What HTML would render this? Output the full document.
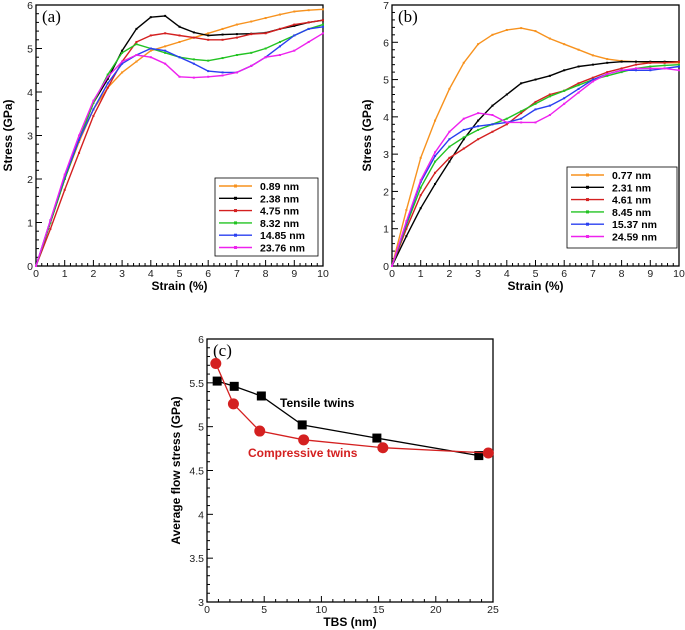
<!DOCTYPE html>
<html><head><meta charset="utf-8"><style>
html,body{margin:0;padding:0;background:#fff;width:685px;height:630px;overflow:hidden}
svg{display:block;font-family:"Liberation Sans",Arial,sans-serif}
</style></head><body>
<svg id="fig" width="685" height="630" viewBox="0 0 685 630"></svg>
<script>
// ---- Panel (a) data ----
const strainA = [0,0.5,1,1.5,2,2.5,3,3.5,4,4.5,5,5.5,6,6.5,7,7.5,8,8.5,9,9.5,10];
const labelsA = ["0.89 nm","2.38 nm","4.75 nm","8.32 nm","14.85 nm","23.76 nm"];
const a089 = [0,1.0,2.0,2.85,3.6,4.1,4.45,4.7,4.95,5.05,5.15,5.25,5.35,5.45,5.55,5.62,5.7,5.78,5.85,5.88,5.9];
const a238 = [0,1.0,2.0,2.9,3.75,4.3,4.95,5.45,5.72,5.75,5.5,5.37,5.3,5.32,5.33,5.34,5.36,5.45,5.52,5.6,5.65];
const a475 = [0,0.85,1.75,2.6,3.45,4.1,4.7,5.15,5.3,5.35,5.3,5.25,5.2,5.2,5.25,5.33,5.35,5.45,5.55,5.6,5.65];
const a832 = [0,1.0,2.0,2.9,3.75,4.4,4.9,5.1,5.0,4.9,4.8,4.75,4.72,4.78,4.85,4.9,5.0,5.15,5.3,5.45,5.55];
const a1485 = [0,1.05,2.05,2.9,3.6,4.2,4.65,4.85,5.0,4.95,4.8,4.65,4.48,4.45,4.45,4.6,4.8,5.05,5.3,5.45,5.5];
const a2376 = [0,1.05,2.1,3.0,3.8,4.35,4.7,4.85,4.8,4.65,4.35,4.33,4.35,4.38,4.45,4.6,4.8,4.85,4.95,5.15,5.35];
// ---- Panel (b) data ----
const strainB = [0,0.5,1,1.5,2,2.5,3,3.5,4,4.5,5,5.5,6,6.5,7,7.5,8,8.5,9,9.5,10];
const labelsB = ["0.77 nm","2.31 nm","4.61 nm","8.45 nm","15.37 nm","24.59 nm"];
const b077 = [0,1.5,2.9,3.9,4.75,5.45,5.95,6.2,6.33,6.38,6.3,6.1,5.95,5.8,5.65,5.55,5.5,5.48,5.45,5.45,5.45];
const b231 = [0,0.8,1.55,2.2,2.8,3.4,3.9,4.3,4.6,4.9,5.0,5.1,5.25,5.35,5.4,5.45,5.48,5.48,5.48,5.48,5.48];
const b461 = [0,1.0,1.9,2.5,2.9,3.15,3.4,3.6,3.8,4.1,4.4,4.6,4.7,4.9,5.05,5.2,5.3,5.4,5.45,5.45,5.48];
const b845 = [0,1.1,2.1,2.8,3.2,3.45,3.65,3.8,3.95,4.15,4.35,4.55,4.7,4.85,5.0,5.1,5.2,5.3,5.35,5.38,5.4];
const b1537 = [0,1.15,2.25,2.95,3.4,3.65,3.75,3.8,3.85,3.95,4.2,4.3,4.5,4.75,5.0,5.15,5.25,5.25,5.25,5.3,5.35];
const b2459 = [0,1.2,2.3,3.05,3.6,3.95,4.1,4.05,3.85,3.85,3.85,4.05,4.35,4.65,4.95,5.15,5.25,5.3,5.3,5.3,5.25];
// ---- Panel (c) data ----
const tbsTensile = [0.89,2.38,4.75,8.32,14.85,23.76];
const flowTensile = [5.52,5.46,5.35,5.02,4.87,4.67];
const tbsCompress = [0.77,2.31,4.61,8.45,15.37,24.59];
const flowCompress = [5.72,5.26,4.95,4.85,4.76,4.70];
const ticksX10 = ["0","1","2","3","4","5","6","7","8","9","10"];
const ticksA = ["0","1","2","3","4","5","6"];
const ticksB = ["0","1","2","3","4","5","6","7"];
const ticksCx = ["0","5","10","15","20","25"];
const ticksCy = ["3","3.5","4","4.5","5","5.5","6"];

const NS="http://www.w3.org/2000/svg";
const svg=document.getElementById('fig');
function mk(tag,attrs,parent){const e=document.createElementNS(NS,tag);for(const k in attrs)e.setAttribute(k,attrs[k]);(parent||svg).appendChild(e);return e;}
const colors=["#f7921e","#000000","#d42020","#22c322","#2a3ff0","#ee22ee"];

function panel(o){
  const g=mk('g',{});
  
  
  const X=v=>o.x0+(v-o.xmin)/(o.xmax-o.xmin)*(o.x1-o.x0);
  const Y=v=>o.y0-(v-o.ymin)/(o.ymax-o.ymin)*(o.y0-o.y1);
  const fr=mk('rect',{x:o.x0,y:o.y1,width:o.x1-o.x0,height:o.y0-o.y1,fill:'none',stroke:'#000','stroke-width':1.3},g);
  
  
  const nx=o.xt.length-1;
  for(let i=0;i<=nx*o.xminor;i++){
    const v=o.xmin+(o.xmax-o.xmin)*i/(nx*o.xminor);
    const major=i%o.xminor===0;
    mk('line',{x1:X(v),x2:X(v),y1:o.y0,y2:o.y0-(major?6:3),stroke:'#000','stroke-width':1},g);
    if(major){const t=mk('text',{x:X(v),y:o.y0+11,'font-size':10.5,'text-anchor':'middle',fill:'#222'},g);t.textContent=o.xt[i/o.xminor];
      }
  }
  const ny=o.yt.length-1;
  for(let i=0;i<=ny*o.yminor;i++){
    const v=o.ymin+(o.ymax-o.ymin)*i/(ny*o.yminor);
    const major=i%o.yminor===0;
    mk('line',{x1:o.x0,x2:o.x0+(major?6:3),y1:Y(v),y2:Y(v),stroke:'#000','stroke-width':1},g);
    if(major){const t=mk('text',{x:o.x0-3,y:Y(v)+4,'font-size':10.5,'text-anchor':'end',fill:'#222'},g);t.textContent=o.yt[i/o.yminor];
      }
  }
  const xl=mk('text',{x:(o.x0+o.x1)/2,y:o.y0+24,'font-size':12,'font-weight':'bold','text-anchor':'middle'},g);
  xl.textContent=o.xlabel;
  const yl=mk('text',{x:0,y:0,'font-size':12,'font-weight':'bold','text-anchor':'middle',transform:`translate(${o.ylx},${(o.y0+o.y1)/2}) rotate(-90)`},g);
  yl.textContent=o.ylabel;
  const pl=mk('text',{x:o.x0+6,y:o.y1+17,'font-size':17,'font-family':'Liberation Serif, serif'},g);
  pl.textContent=o.tag;
  return {g,X,Y};
}
function X2(p,x,y){return p.X(x).toFixed(1)+','+p.Y(y).toFixed(1);}

function curvePanel(o,xs,series,labels,leg){
  const p=panel(o);
  series.forEach((s,k)=>{
    const pts=s.map((v,i)=>X2(p,xs[i],v)).join(' ');
    const l=mk('polyline',{points:pts,fill:'none',stroke:colors[k],'stroke-width':1.4,'stroke-linejoin':'round'},p.g);
    
    
    for(let i=0;i<xs.length;i++){
      mk('rect',{x:p.X(xs[i])-1,y:p.Y(s[i])-1,width:2,height:2,fill:colors[k]},p.g);
    }
  });
  const lg=mk('g',{},p.g);
  
  
  mk('rect',{x:leg.x,y:leg.y,width:leg.w,height:leg.h,fill:'#fff',stroke:'#000','stroke-width':0.8},lg);
  labels.forEach((lab,k)=>{
    const yy=leg.y+8+k*12.3;
    mk('line',{x1:leg.x+4,x2:leg.x+37,y1:yy,y2:yy,stroke:colors[k],'stroke-width':1.4},lg);
    mk('rect',{x:leg.x+19,y:yy-1.5,width:3,height:3,fill:colors[k]},lg);
    const t=mk('text',{x:leg.x+45,y:yy+4,'font-size':10.5,'font-weight':'bold'},lg);
    t.textContent=lab;
  });
}

curvePanel({name:'panel-a',tag:'(a)',x0:36,x1:323,y0:266,y1:5,xmin:0,xmax:10,ymin:0,ymax:6,xt:ticksX10,yt:ticksA,xminor:5,yminor:5,xlabel:'Strain (%)',ylabel:'Stress (GPa)',ylx:12},
  strainA,[a089,a238,a475,a832,a1485,a2376],labelsA,{x:215,y:178,w:103,h:78});
curvePanel({name:'panel-b',tag:'(b)',x0:392,x1:679,y0:266,y1:5,xmin:0,xmax:10,ymin:0,ymax:7,xt:ticksX10,yt:ticksB,xminor:5,yminor:5,xlabel:'Strain (%)',ylabel:'Stress (GPa)',ylx:371},
  strainB,[b077,b231,b461,b845,b1537,b2459],labelsB,{x:567,y:167,w:110,h:81});

const pc=panel({name:'panel-c',tag:'(c)',x0:207,x1:493,y0:602,y1:339,xmin:0,xmax:25,ymin:3,ymax:6,xt:ticksCx,yt:ticksCy,xminor:5,yminor:5,xlabel:'TBS (nm)',ylabel:'Average flow stress (GPa)',ylx:180});
const lt=mk('polyline',{points:tbsTensile.map((x,i)=>X2(pc,x,flowTensile[i])).join(' '),fill:'none',stroke:'#000','stroke-width':1.3},pc.g);

tbsTensile.forEach((x,i)=>{const r=mk('rect',{x:pc.X(x)-4.5,y:pc.Y(flowTensile[i])-4.5,width:9,height:9,fill:'#000'},pc.g);
  });
const lc=mk('polyline',{points:tbsCompress.map((x,i)=>X2(pc,x,flowCompress[i])).join(' '),fill:'none',stroke:'#d42020','stroke-width':1.3},pc.g);

tbsCompress.forEach((x,i)=>{const c=mk('circle',{cx:pc.X(x),cy:pc.Y(flowCompress[i]),r:5.5,fill:'#d42020'},pc.g);
  });
const t1=mk('text',{x:280,y:407,'font-size':12,'font-weight':'bold',fill:'#000'},pc.g);t1.textContent='Tensile twins';

const t2=mk('text',{x:248,y:457,'font-size':12,'font-weight':'bold',fill:'#d42020'},pc.g);t2.textContent='Compressive twins';

</script>
</body></html>
